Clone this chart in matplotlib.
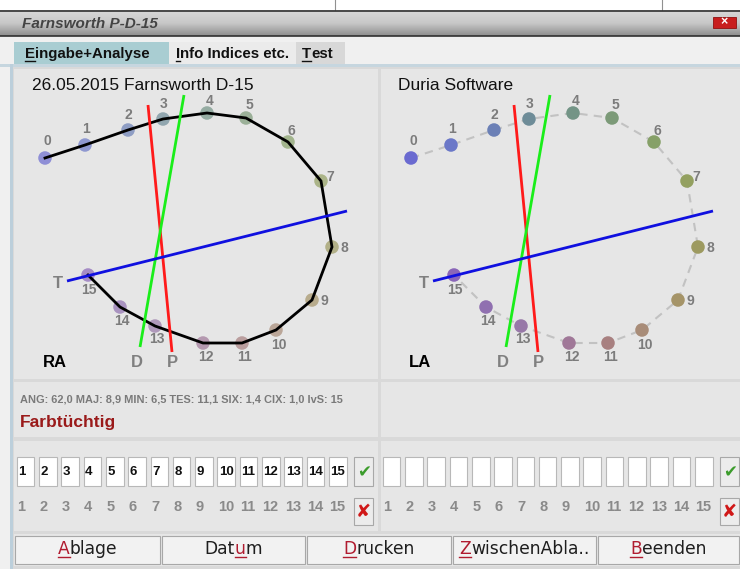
import numpy as np
import matplotlib
matplotlib.use("Agg")
import matplotlib.pyplot as plt
from matplotlib.patches import Rectangle

plt.rcParams['font.family'] = ['Liberation Sans', 'DejaVu Sans']

# --- data -------------------------------------------------------------
cap_ids = list(range(16))
# cap positions on the RA panel (screen pixels); LA panel is the same shifted right
cap_x = [45, 85, 128, 163, 207, 246, 288, 321, 332, 312, 276, 242, 203, 155, 120, 88]
cap_y = [158, 145, 130, 119, 113, 118, 142, 181, 247, 300, 330, 343, 343, 326, 307, 275]
cap_colors = ['#6a6ad0', '#6b78c8', '#6b80b6', '#6e8c98', '#739486', '#7c9a78',
              '#86a068', '#93a060', '#9d9a60', '#a59468', '#a88c78', '#a88080',
              '#a07898', '#9878a8', '#9070b0', '#8a66b8']
# order in which the caps were arranged
arrangement = [0, 1, 2, 3, 4, 5, 6, 7, 8, 9, 10, 11, 12, 13, 14, 15]

# confusion axes (protan, deutan, tritan) endpoints
axis_names = ['P', 'D', 'T']
axis_colors = ['#ff1a1a', '#1aee1a', '#1010e0']
axis_x0 = [148, 184, 67]
axis_y0 = [105, 95, 281]
axis_x1 = [172, 140, 347]
axis_y1 = [352, 347, 211]

indices_text = "ANG: 62,0 MAJ: 8,9 MIN: 6,5 TES: 11,1 SIX: 1,4 CIX: 1,0 IvS: 15"
verdict = "Farbtüchtig"
tabs = ["Eingabe+Analyse", "Info Indices etc.", "Test"]
buttons = ["Ablage", "Datum", "Drucken", "ZwischenAbla..", "Beenden"]
button_hot = [0, 3, 0, 0, 0]   # index of the underlined mnemonic letter

# label offsets around the circle (layout)
lab_dx = [2, 1, 0, 1, 3, 3, 3, 9, 12, 12, 3, 3, 3, 2, 2, 1]
lab_dy = [-17, -16, -15, -15, -12, -13, -11, -4, 1, 1, 15, 14, 14, 13, 14, 15]

# --- figure -----------------------------------------------------------
W, H = 740, 569
fig = plt.figure(figsize=(W / 100, H / 100), dpi=100)
ax = fig.add_axes([0, 0, 1, 1])
ax.set_xlim(0, W)
ax.set_ylim(H, 0)
ax.axis('off')
renderer = fig.canvas.get_renderer()


def rect(x, y, w, h, fc, ec='none', lw=0, z=1):
    ax.add_patch(Rectangle((x, y), w, h, facecolor=fc, edgecolor=ec, linewidth=lw, zorder=z))


def rich(x, y, text, hot, color, hotcolor, size, weight='normal', family=None, center=False, z=5):
    kw = dict(fontsize=size, fontweight=weight, va='baseline', ha='left', zorder=z)
    if family:
        kw['family'] = family
    if center:
        t = ax.text(0, 0, text, **kw)
        x = x - t.get_window_extent(renderer).width / 2
        t.remove()
    parts = [(text[:hot], color, False), (text[hot], hotcolor, True), (text[hot + 1:], color, False)]
    for s, c, ul in parts:
        if not s:
            continue
        t = ax.text(x, y, s, color=c, **kw)
        w = t.get_window_extent(renderer).width
        if ul:
            ax.plot([x, x + w], [y + 2.5, y + 2.5], color=c, lw=1.0, zorder=z)
        x += w


# window background
rect(0, 0, W, H, '#f0f0f0', z=0)
rect(0, 0, W, 10, '#ffffff')
ax.plot([335, 335], [0, 10], color='#909090', lw=0.8)
ax.plot([662, 662], [0, 10], color='#909090', lw=0.8)

# title bar gradient
grad = np.linspace(0, 1, 40).reshape(-1, 1)
ax.imshow(grad, extent=[0, W, 36, 10], cmap=matplotlib.colors.LinearSegmentedColormap.from_list(
    'tb', ['#d8d8d8', '#c8c8c8', '#8e8e8e']), aspect='auto', zorder=1)
ax.plot([0, W], [10.5, 10.5], color='#303030', lw=1.2, zorder=2)
ax.plot([0, W], [36, 36], color='#303030', lw=1.2, zorder=2)
ax.text(22, 23.5, "Farnsworth P-D-15", fontsize=11, fontweight='bold', style='italic',
        color='#444444', va='center', ha='left', zorder=3)
rect(713, 16.5, 23, 11, '#c81e1e', ec='#901010', lw=0.6, z=3)
ax.text(724.5, 22, '×', color='white', fontsize=9, fontweight='bold', ha='center', va='center', zorder=4)

# tabs
tab_x = [14, 169, 296, 345]
tab_bg = ['#a9cdd2', '#ebebeb', '#d8d8d8']
for i, name in enumerate(tabs):
    rect(tab_x[i], 42, tab_x[i + 1] - tab_x[i], 23, tab_bg[i])
    rich(tab_x[i] + [11, 7, 6][i], 58, name, 0, '#111111', '#111111', 10.8, weight='bold')
rect(0, 64, W, 3, '#c6d6df', z=2)

# content area
rect(13, 66, W - 13, H - 66, '#d9d9d9', z=1)
rect(10, 64, 3, H - 64, '#bccfdb', z=2)
for px, pw in [(14, 364), (381, 359)]:
    rect(px, 69, pw, 310, '#e6e6e6', z=2)
    rect(px, 382, pw, 55, '#e6e6e6', z=2)
    rect(px, 441, pw, 90, '#e6e6e6', z=2)
rect(14, 534, W - 14, 32, '#e6e6e6', z=2)

# chart panels
cx = np.array(cap_x, dtype=float)
cy = np.array(cap_y, dtype=float)
for k, (dx, title, eye) in enumerate([(0, "26.05.2015 Farnsworth D-15", "RA"),
                                       (366, "Duria Software", "LA")]):
    ax.text(32 + dx, 85, title, fontsize=12.5, color='#111111', va='center', ha='left', zorder=5)
    ax.text(43 + dx, 362, eye, fontsize=12, fontweight='bold', color='#000000',
            va='center', ha='left', zorder=5)
    px = cx[arrangement] + dx
    py = cy[arrangement]
    if k == 0:
        ax.scatter(cx + dx, cy, s=95, c=cap_colors, alpha=0.7, edgecolors='none', zorder=6)
        ax.plot(px, py, color='#000000', lw=2.0, zorder=7, solid_joinstyle='miter')
    else:
        ax.plot(px, py, color='#c2c2c2', lw=1.5, dashes=(4, 3), zorder=6)
        ax.scatter(cx + dx, cy, s=95, c=cap_colors, edgecolors='none', zorder=7)
    for i in cap_ids:
        ax.text(cx[i] + dx + lab_dx[i], cy[i] + lab_dy[i], str(i), fontsize=10, fontweight='bold',
                color='#7c7c7c', ha='center', va='center', zorder=8)
    for j, nm in enumerate(axis_names):
        ax.plot([axis_x0[j] + dx, axis_x1[j] + dx], [axis_y0[j], axis_y1[j]],
                color=axis_colors[j], lw=2.0, zorder=9, solid_capstyle='butt')
    ax.text(58 + dx, 283, 'T', fontsize=12, fontweight='bold', color='#808080',
            ha='center', va='center', zorder=8)
    ax.text(137 + dx, 362, 'D', fontsize=12, fontweight='bold', color='#808080',
            ha='center', va='center', zorder=8)
    ax.text(172 + dx, 362, 'P', fontsize=12, fontweight='bold', color='#808080',
            ha='center', va='center', zorder=8)

# indices
ax.text(20, 399, indices_text, fontsize=7.9, fontweight='bold', color='#7a7a7a',
        va='center', ha='left', zorder=5)
ax.text(20, 422, verdict, fontsize=12.5, fontweight='bold', color='#9a1a1a',
        va='center', ha='left', zorder=5)

# input boxes
for k, (x0, filled) in enumerate([(16.7, True), (382.7, False)]):
    for i in range(15):
        bx = x0 + 22.3 * i
        rect(bx, 457, 17.6, 29, '#ffffff', ec='#b8b8b8', lw=0.8, z=4)
        if filled:
            ax.text(bx + 1.5, 472, str(i + 1), fontsize=9.5, fontweight='bold', color='#111111',
                    va='center', ha='left', zorder=5)
        ax.text(bx + 0.5, 507, str(i + 1), fontsize=10.5, fontweight='bold', color='#8a8a8a',
                va='center', ha='left', zorder=5)
    bxx = x0 + 22.3 * 15 + 3
    rect(bxx, 457, 18.5, 29, '#ececec', ec='#a8a8a8', lw=0.8, z=4)
    ax.text(bxx + 9.5, 472, '✔', family='DejaVu Sans', fontsize=12, color='#3c9c2c',
            ha='center', va='center', zorder=5)
    rect(bxx, 498, 18.5, 27, '#ececec', ec='#a8a8a8', lw=0.8, z=4)
    ax.text(bxx + 9.5, 512, '✘', family='DejaVu Sans', fontsize=13, color='#d01818',
            ha='center', va='center', zorder=5)

# bottom buttons
bx_edges = [14, 161, 306, 452, 597, 740]
for i, name in enumerate(buttons):
    x0, x1 = bx_edges[i], bx_edges[i + 1]
    rect(x0 + 1, 536, x1 - x0 - 2, 28, '#f2f2f2', ec='#a8a8a8', lw=0.8, z=4)
    rich((x0 + x1) / 2, 554, name, button_hot[i], '#1e1e1e', '#b01c30', 12.3,
         family='DejaVu Sans', center=True)

fig.savefig('out.png', dpi=100)
